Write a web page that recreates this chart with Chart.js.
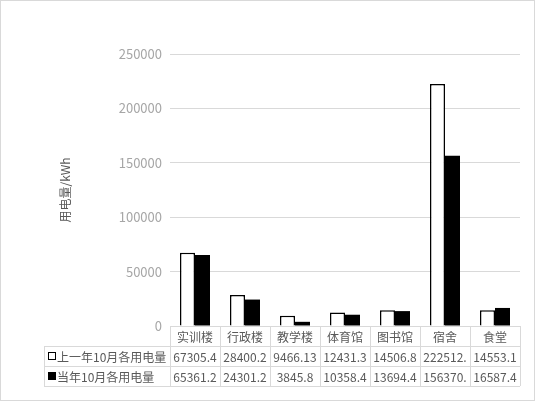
<!DOCTYPE html>
<html>
<head>
    <title>用电量</title>
    <script src="https://cdn.jsdelivr.net/npm/chart.js"></script>
    <style>
        html, body { margin: 0; padding: 0; background: #fff; }
        #wrap { width: 535px; height: 401px; }
    </style>
</head>
<body>
    <div id="wrap"><canvas id="powerChart" width="535" height="401"></canvas></div>

    <script>
        // 数据
        const buildings = ['实训楼', '行政楼', '教学楼', '体育馆', '图书馆', '宿舍', '食堂'];
        const lastYear = [67305.4, 28400.2, 9466.13, 12431.3, 14506.8, 222512.6, 14553.1];
        const thisYear = [65361.2, 24301.2, 3845.8, 10358.4, 13694.4, 156370.3, 16587.4];
        const seriesNames = ['上一年10月各用电量', '当年10月各用电量'];
        const yTicks = [0, 50000, 100000, 150000, 200000, 250000];

        const FONT = '"Noto Sans CJK SC", "Noto Sans", sans-serif';
        const textColor = '#595959';
        const lineColor = '#d9d9d9';

        // 缩短放不下的数值 (像 Excel 一样截断)
        function fitText(ctx, s, w) {
            while (s.length > 1 && ctx.measureText(s).width > w) {
                s = s.slice(0, -1);
            }
            return s;
        }

        // 数据表 + 外框
        const dataTable = {
            id: 'dataTable',
            afterDraw(chart) {
                const ctx = chart.ctx;
                const x = chart.scales.x;
                const area = chart.chartArea;
                const left = 44;
                const rowH = 20;
                const top = area.bottom;
                const n = buildings.length;
                const edges = [];
                for (let i = 0; i < n; i++) {
                    edges.push(x.getPixelForValue(i) - (x.width / n) / 2);
                }
                edges.push(area.right);

                ctx.save();
                ctx.strokeStyle = lineColor;
                ctx.lineWidth = 1;
                ctx.beginPath();
                // 横线
                ctx.moveTo(area.left, top + 0.5);
                ctx.lineTo(area.right, top + 0.5);
                for (let r = 1; r <= 3; r++) {
                    ctx.moveTo(left, Math.round(top + r * rowH) + 0.5);
                    ctx.lineTo(area.right, Math.round(top + r * rowH) + 0.5);
                }
                // 竖线
                ctx.moveTo(left + 0.5, top + rowH);
                ctx.lineTo(left + 0.5, top + 3 * rowH);
                edges.forEach(e => {
                    ctx.moveTo(Math.round(e) + 0.5, top);
                    ctx.lineTo(Math.round(e) + 0.5, top + 3 * rowH);
                });
                ctx.stroke();

                ctx.fillStyle = textColor;
                ctx.font = '12px ' + FONT;
                ctx.textBaseline = 'middle';
                ctx.textAlign = 'center';
                const rows = [lastYear, thisYear];
                for (let i = 0; i < n; i++) {
                    const cx = (edges[i] + edges[i + 1]) / 2;
                    const cw = edges[i + 1] - edges[i] - 2;
                    ctx.fillText(buildings[i], cx, top + rowH / 2 + 1);
                    rows.forEach((vals, r) => {
                        ctx.fillText(fitText(ctx, String(vals[i]), cw), cx, top + rowH * (r + 1.5) + 1);
                    });
                }

                // 图例列
                ctx.textAlign = 'left';
                seriesNames.forEach((name, r) => {
                    const cy = top + rowH * (r + 1.5);
                    ctx.fillStyle = '#000';
                    ctx.fillRect(48, cy - 4, 8, 8);
                    if (r === 0) {
                        ctx.fillStyle = '#fff';
                        ctx.fillRect(49, cy - 3, 6, 6);
                    }
                    ctx.fillStyle = textColor;
                    ctx.fillText(name, 57, cy + 1);
                });

                // 图表外框
                ctx.strokeStyle = lineColor;
                ctx.strokeRect(0.5, 0.5, chart.width - 1, chart.height - 1);
                ctx.restore();
            }
        };

        new Chart(document.getElementById('powerChart'), {
            type: 'bar',
            data: {
                labels: buildings,
                datasets: [{
                    label: seriesNames[0],
                    data: lastYear,
                    backgroundColor: '#fff',
                    borderColor: '#000',
                    borderWidth: 1.5
                }, {
                    label: seriesNames[1],
                    data: thisYear,
                    backgroundColor: '#000',
                    borderColor: '#000',
                    borderWidth: 0
                }]
            },
            options: {
                responsive: false,
                animation: false,
                layout: { padding: { left: 44, top: 54, right: 15, bottom: 75 } },
                datasets: { bar: { categoryPercentage: 0.6, barPercentage: 1 } },
                plugins: {
                    legend: { display: false },
                    tooltip: { enabled: false }
                },
                scales: {
                    x: {
                        display: false
                    },
                    y: {
                        min: 0,
                        max: 250000,
                        afterFit(s) { s.width = 126; },
                        afterBuildTicks(s) { s.ticks = yTicks.map(v => ({ value: v })); },
                        grid: { color: lineColor, drawTicks: false },
                        border: { display: false },
                        ticks: {
                            padding: 8,
                            color: '#a6a6a6',
                            font: { family: FONT, size: 13 },
                            callback: v => String(v)
                        },
                        title: {
                            display: true,
                            text: '用电量/kWh',
                            color: textColor,
                            padding: { top: 14, bottom: 0 },
                            font: { family: FONT, size: 12 }
                        }
                    }
                }
            },
            plugins: [dataTable]
        });
    </script>
</body>
</html>
